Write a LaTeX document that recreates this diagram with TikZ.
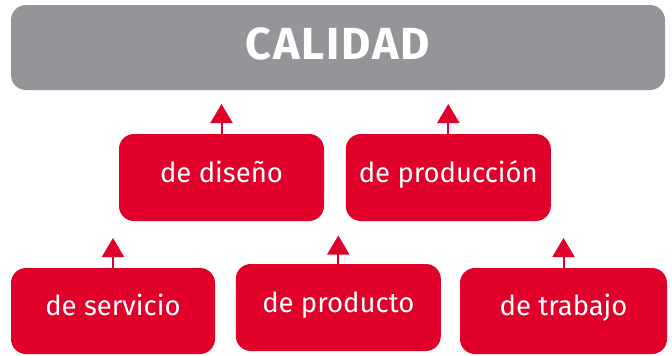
\documentclass[tikz,border=0pt]{standalone}
\usepackage{fontspec}
\setmainfont{Fira Sans}
\usetikzlibrary{arrows.meta}
\definecolor{calred}{HTML}{E1002A}
\definecolor{calgray}{HTML}{939598}
\begin{document}
\begin{tikzpicture}[x=1pt,y=-1pt,
  redbox/.style={fill=calred, draw=none, rounded corners=15pt, text=white,
    minimum width=205pt, minimum height=87pt, inner sep=0pt,
    font=\fontsize{27.5}{32}\selectfont, text height=21pt, text depth=12pt},
  topbox/.style={fill=calgray, draw=none, rounded corners=15pt, text=white,
    minimum width=654pt, minimum height=85pt, inner sep=0pt,
    font=\fontsize{45}{50}\selectfont\bfseries\addfontfeature{LetterSpace=4}, text height=30pt, text depth=7pt},
  uparrow/.style={draw=calred, line width=2pt, -{Triangle[width=22pt,length=19pt]}}
]
\useasboundingbox (0,0) rectangle (672,356);
\node[topbox] (cal) at (338,47.5) {CALIDAD};
\node[redbox] (dis) at (221.5,177.5) {de diseño};
\node[redbox] (prod) at (448.3,177.5) {de producción};
\node[redbox, minimum width=204pt, minimum height=86pt] (serv) at (113,311) {de servicio};
\node[redbox] (pto) at (338.3,307.5) {de producto};
\node[redbox, minimum width=207pt, minimum height=86pt] (trab) at (563.5,311) {de trabajo};
\coordinate (tdis) at (221.5,104);
\coordinate (tprod) at (448.3,104);
\coordinate (tserv) at (113,238);
\coordinate (tpto) at (338.3,235.5);
\coordinate (ttrab) at (563.5,238);
\draw[uparrow] (dis.north) -- (tdis);
\draw[uparrow] (prod.north) -- (tprod);
\draw[uparrow] (serv.north) -- (tserv);
\draw[uparrow] (pto.north) -- (tpto);
\draw[uparrow] (trab.north) -- (ttrab);
\end{tikzpicture}
\end{document}
